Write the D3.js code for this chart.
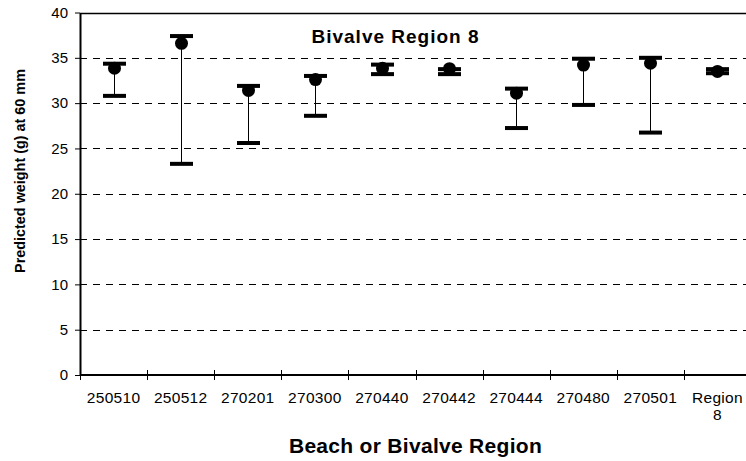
<!DOCTYPE html>
<html>
<head>
<meta charset="utf-8">
<script src="https://cdn.jsdelivr.net/npm/d3@7"></script>
<style>
  html, body { margin: 0; padding: 0; background: #fff; overflow: hidden; }
  svg { display: block; font-family: "Liberation Sans", Arial, sans-serif; }
</style>
</head>
<body>
<svg id="chart" width="746" height="461"></svg>
<script>
const categories = ["250510","250512","270201","270300","270440","270442","270444","270480","270501","Region 8"];
const means = [33.85, 36.6, 31.4, 32.6, 33.85, 33.8, 31.1, 34.2, 34.4, 33.5];
const upper = [34.35, 37.4, 31.9, 33.0, 34.25, 33.75, 31.6, 34.9, 35.0, 33.75];
const lower = [30.8, 23.3, 25.6, 28.6, 33.2, 33.2, 27.25, 29.8, 26.75, 33.3];
const yTicks = [0, 5, 10, 15, 20, 25, 30, 35, 40];

const svg = d3.select("#chart");
const mLeft = 80, mRight = 751, mTop = 12.5, mBottom = 375;

const x = d3.scaleBand().domain(categories).range([mLeft, mRight]).padding(0);
const y = d3.scaleLinear().domain([0, 40]).range([mBottom, mTop]);

// gridlines
svg.append("g").selectAll("line")
  .data(yTicks.filter(d => d > 0 && d < 40))
  .join("line")
  .attr("x1", mLeft).attr("x2", mRight)
  .attr("y1", d => Math.round(y(d)) + 0.5).attr("y2", d => Math.round(y(d)) + 0.5)
  .attr("stroke", "#000").attr("stroke-width", 1)
  .attr("stroke-dasharray", "7,6");

// top border
svg.append("line")
  .attr("x1", mLeft).attr("x2", mRight)
  .attr("y1", Math.round(y(40)) + 0.5).attr("y2", Math.round(y(40)) + 0.5)
  .attr("stroke", "#000").attr("stroke-width", 1.5);

// y axis
const yAxis = svg.append("g")
  .attr("transform", `translate(${mLeft},0)`)
  .call(d3.axisLeft(y).tickValues(yTicks).tickSize(5).tickPadding(7).tickSizeOuter(0));
yAxis.select(".domain").attr("stroke", "#000").attr("stroke-width", 2);
yAxis.selectAll("text").attr("font-size", 15).attr("fill", "#000")
  .attr("font-family", "'Liberation Sans', Arial, sans-serif");

// x axis: labels
const xAxis = svg.append("g")
  .attr("transform", `translate(0,${mBottom})`)
  .call(d3.axisBottom(x).tickSize(0).tickPadding(17).tickSizeOuter(0));
xAxis.select(".domain").remove();
xAxis.selectAll("text").attr("font-size", 15.5).attr("fill", "#000")
  .attr("letter-spacing", 0.3)
  .attr("font-family", "'Liberation Sans', Arial, sans-serif")
  .each(function(d) {
    const t = d3.select(this);
    const parts = d.split(" ");
    if (parts.length > 1) {
      t.text(null);
      parts.forEach((p, i) => {
        t.append("tspan").attr("x", 0).attr("dy", i === 0 ? "0.71em" : "1.12em").text(p);
      });
      t.attr("dy", null);
    }
  });

// x axis line
svg.append("line")
  .attr("x1", mLeft).attr("x2", mRight)
  .attr("y1", mBottom).attr("y2", mBottom)
  .attr("stroke", "#000").attr("stroke-width", 2);

// x boundary ticks
const boundaries = categories.map(c => x(c)).concat([x(categories[categories.length - 1]) + x.bandwidth()]);
svg.append("g").selectAll("line")
  .data(boundaries)
  .join("line")
  .attr("x1", d => Math.round(d) + 0.5).attr("x2", d => Math.round(d) + 0.5)
  .attr("y1", mBottom - 5).attr("y2", mBottom + 5)
  .attr("stroke", "#000").attr("stroke-width", 1);

// error bars
const data = categories.map((c, i) => ({c, m: means[i], hi: upper[i], lo: lower[i]}));
const g = svg.append("g");
const cx = d => Math.round(x(d.c) + x.bandwidth() / 2) + 0.5;
g.selectAll(".stem").data(data).join("line")
  .attr("x1", cx).attr("x2", cx)
  .attr("y1", d => y(d.hi)).attr("y2", d => y(d.lo))
  .attr("stroke", "#000").attr("stroke-width", 1);
g.selectAll(".dot").data(data).join("circle")
  .attr("cx", cx).attr("cy", d => y(d.m)).attr("r", 6.5)
  .attr("fill", "#000");
const capW = 23, capH = 4;
g.selectAll(".capHi").data(data).join("rect")
  .attr("x", d => cx(d) - capW / 2).attr("y", d => y(d.hi) - capH / 2)
  .attr("width", capW).attr("height", capH).attr("fill", "#000");
g.selectAll(".capLo").data(data).join("rect")
  .attr("x", d => cx(d) - capW / 2).attr("y", d => y(d.lo) - capH / 2)
  .attr("width", capW).attr("height", capH).attr("fill", "#000");

// title
svg.append("text")
  .attr("x", 395.5).attr("y", 43)
  .attr("text-anchor", "middle")
  .attr("font-size", 19).attr("font-weight", "bold")
  .attr("letter-spacing", 1)
  .text("Bivalve Region 8");

// axis titles
svg.append("text")
  .attr("transform", "translate(25,171) rotate(-90)")
  .attr("text-anchor", "middle")
  .attr("font-size", 14.4).attr("font-weight", "bold")
  .text("Predicted weight (g) at 60 mm");

svg.append("text")
  .attr("x", 415.5).attr("y", 453)
  .attr("text-anchor", "middle")
  .attr("font-size", 21).attr("font-weight", "bold")
  .attr("letter-spacing", 0.3)
  .text("Beach or Bivalve Region");
</script>
</body>
</html>
